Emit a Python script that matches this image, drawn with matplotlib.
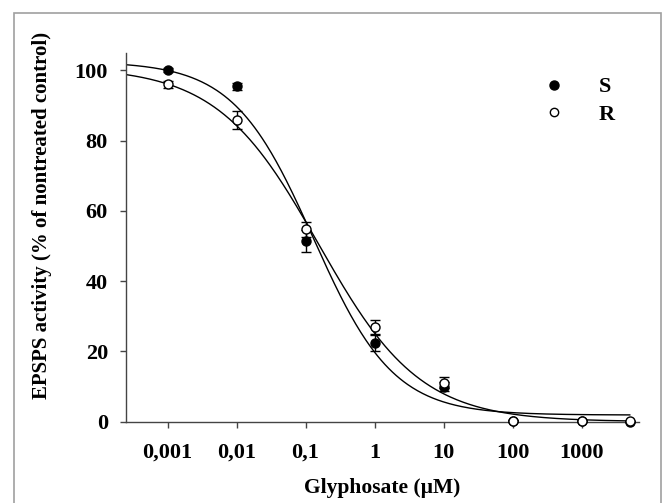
import numpy as np
import matplotlib.pyplot as plt
from matplotlib.patches import Rectangle
from matplotlib.lines import Line2D

plt.rcParams['font.family'] = ['Liberation Serif', 'DejaVu Serif']
plt.rcParams['font.weight'] = 'bold'

# glyphosate concentrations (uM)
conc = [0.001, 0.01, 0.1, 1, 10, 100, 1000, 5000]

# EPSPS activity, % of nontreated control
s_mean = [100.0, 95.5, 51.4, 22.3, 10.0, 0.2, 0.1, 0.0]
s_err = [0.6, 1.0, 3.2, 2.3, 1.2, 0.3, 0.2, 0.2]
r_mean = [96.0, 85.8, 54.7, 27.0, 11.1, 0.3, 0.2, 0.1]
r_err = [0.9, 2.5, 2.2, 1.9, 1.6, 0.3, 0.2, 0.2]

# log-logistic fits: lower, upper, ED50, slope
s_fit = [1.9, 102.5, 0.13, 0.75]
r_fit = [0.0, 101.0, 0.155, 0.59]

xticks = [0.001, 0.01, 0.1, 1, 10, 100, 1000]
xtick_labels = ['0,001', '0,01', '0,1', '1', '10', '100', '1000']
yticks = [0, 20, 40, 60, 80, 100]


def loglogistic(x, c, d, e, b):
    return c + (d - c) / (1 + (x / e) ** b)


fig = plt.figure(figsize=(6.68, 5.03), dpi=100)
ax = fig.add_axes([0.1886, 0.1616, 0.768, 0.7336])

xmin, xmax = 0.00025, 6800
xs = np.logspace(np.log10(xmin), np.log10(5000), 400)
ax.plot(xs, loglogistic(xs, *s_fit), color='black', lw=1.0)
ax.plot(xs, loglogistic(xs, *r_fit), color='black', lw=1.0)

ax.errorbar(conc, s_mean, yerr=s_err, fmt='o', color='black', ms=6.5,
            mfc='black', mec='black', ecolor='black', elinewidth=1,
            capsize=3.6, capthick=1, clip_on=False, zorder=3)
ax.errorbar(conc, r_mean, yerr=r_err, fmt='o', color='black', ms=6.5,
            mfc='white', mec='black', mew=1, ecolor='black', elinewidth=1,
            capsize=3.6, capthick=1, clip_on=False, zorder=4)

ax.set_xscale('log')
ax.set_xlim(xmin, xmax)
ax.set_ylim(0, 105)
ax.set_xticks(xticks)
ax.set_xticklabels(xtick_labels)
ax.minorticks_off()
ax.set_yticks(yticks)

for side in ['top', 'right']:
    ax.spines[side].set_visible(False)
for side in ['left', 'bottom']:
    ax.spines[side].set_color('#444444')
    ax.spines[side].set_linewidth(1.0)
ax.tick_params(direction='out', length=4, width=1, color='#444444',
               labelsize=16)
ax.tick_params(axis='y', pad=9)
ax.tick_params(axis='x', pad=11)

ax.set_xlabel('Glyphosate (\u00b5M)', fontsize=15.5, fontweight='bold')
ax.xaxis.set_label_coords(0.5, -0.153)
ax.set_ylabel('EPSPS activity (% of nontreated control)', fontsize=15,
              fontweight='bold')
ax.yaxis.set_label_coords(-0.145, 0.56)

handles = [Line2D([], [], ls='none', marker='o', ms=6.5, mfc='black', mec='black'),
           Line2D([], [], ls='none', marker='o', ms=6, mfc='white', mec='black')]
ax.legend(handles, ['S', 'R'], loc='upper left', bbox_to_anchor=(0.77, 0.965),
          frameon=False, fontsize=16, handlelength=2.0, handletextpad=1.0,
          labelspacing=0.3, borderpad=0)

fig.patches.append(Rectangle((14 / 668, -0.1), (661 - 14) / 668, 1.1 - 13 / 503,
                             transform=fig.transFigure, fill=False,
                             edgecolor='#a0a0a0', lw=1.2))

fig.savefig('out.png', dpi=100)
